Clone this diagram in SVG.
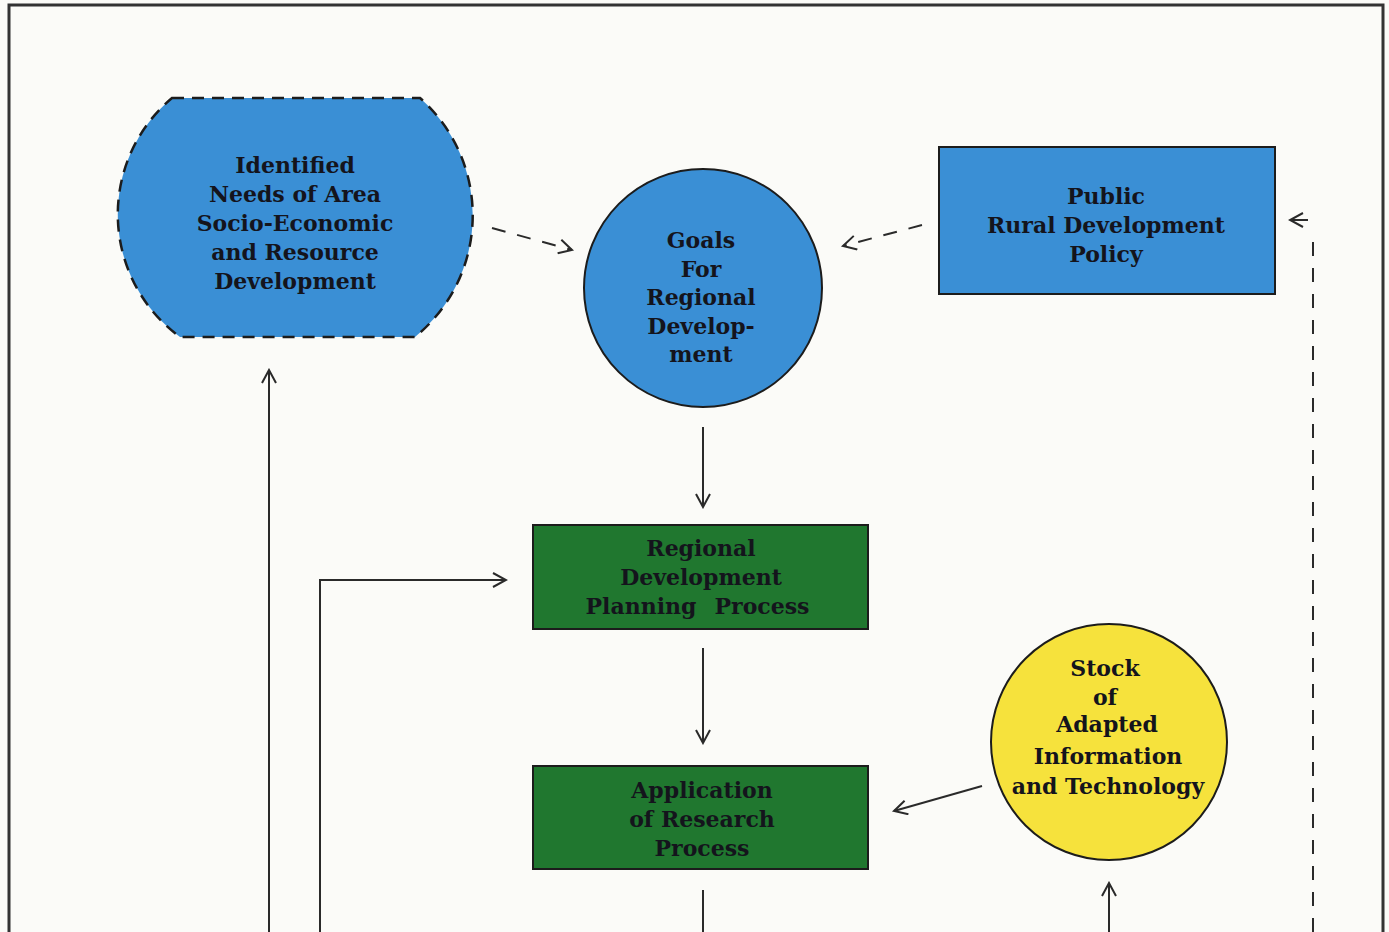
<svg xmlns="http://www.w3.org/2000/svg" width="1389" height="932" viewBox="0 0 1389 932">
  <defs>
    <style>
      .lbl { font-family: "DejaVu Serif", "Liberation Serif", serif; font-weight: bold; font-size: 22px; fill: #14141c; text-anchor: middle; }
      .wire { fill: none; stroke: #2a2a2a; stroke-width: 2; }
      .dash { stroke-dasharray: 14 12; }
      .blue { fill: #3a8fd5; }
      .green { fill: #20772f; }
      .yellow { fill: #f6e23c; }
      .edge { stroke: #1c1c1c; stroke-width: 2; }
    </style>
    <marker id="head" viewBox="-14 -8 16 16" refX="0" refY="0" markerWidth="16" markerHeight="16" markerUnits="userSpaceOnUse" orient="auto">
      <polyline points="-13,-7 0,0 -13,7" fill="none" stroke="#2a2a2a" stroke-width="2"/>
    </marker>
  </defs>

  <!-- page background and frame -->
  <rect x="0" y="0" width="1389" height="932" fill="#fbfbf8"/>
  <path d="M9,932 V5 H1383 V932" fill="none" stroke="#333" stroke-width="3"/>

  <!-- connectors -->
  <g id="connectors">
    <line class="wire dash" x1="492" y1="228" x2="572" y2="250" marker-end="url(#head)"/>
    <line class="wire dash" x1="922" y1="225" x2="843" y2="246" marker-end="url(#head)"/>
    <line class="wire dash" x1="1313" y1="932" x2="1313" y2="232"/>
    <line class="wire" x1="1308" y1="220" x2="1290" y2="220" marker-end="url(#head)"/>
    <line class="wire" x1="703" y1="427" x2="703" y2="507" marker-end="url(#head)"/>
    <line class="wire" x1="703" y1="648" x2="703" y2="743" marker-end="url(#head)"/>
    <line class="wire" x1="703" y1="890" x2="703" y2="932"/>
    <line class="wire" x1="982" y1="786" x2="894" y2="811" marker-end="url(#head)"/>
    <line class="wire" x1="1109" y1="932" x2="1109" y2="883" marker-end="url(#head)"/>
    <line class="wire" x1="269" y1="932" x2="269" y2="370" marker-end="url(#head)"/>
    <polyline class="wire" points="320,932 320,580 506,580" marker-end="url(#head)"/>
  </g>

  <!-- Identified needs -->
  <g id="needs">
    <path class="blue" d="M172,98 H420 A157,157 0 0 1 415,337 H180 A152,152 0 0 1 172,98 Z" stroke="#1c1c1c" stroke-width="2.5" stroke-dasharray="12 8"/>
    <text class="lbl" x="295" y="173">Identified</text>
    <text class="lbl" x="295" y="202">Needs of Area</text>
    <text class="lbl" x="295" y="231">Socio-Economic</text>
    <text class="lbl" x="295" y="260">and Resource</text>
    <text class="lbl" x="295" y="289">Development</text>
  </g>

  <!-- Goals -->
  <g id="goals">
    <circle class="blue edge" cx="703" cy="288" r="119"/>
    <text class="lbl" x="701" y="248">Goals</text>
    <text class="lbl" x="701" y="277">For</text>
    <text class="lbl" x="701" y="305">Regional</text>
    <text class="lbl" x="701" y="334">Develop-</text>
    <text class="lbl" x="701" y="362">ment</text>
  </g>

  <!-- Public policy -->
  <g id="policy">
    <rect class="blue edge" x="939" y="147" width="336" height="147"/>
    <text class="lbl" x="1106" y="204">Public</text>
    <text class="lbl" x="1106" y="233">Rural Development</text>
    <text class="lbl" x="1106" y="262">Policy</text>
  </g>

  <!-- Planning process -->
  <g id="planning">
    <rect class="green edge" x="533" y="525" width="335" height="104"/>
    <text class="lbl" x="701" y="556">Regional</text>
    <text class="lbl" x="701" y="585">Development</text>
    <text class="lbl" x="641" y="614">Planning</text>
    <text class="lbl" x="762" y="614">Process</text>
  </g>

  <!-- Research application -->
  <g id="research">
    <rect class="green edge" x="533" y="766" width="335" height="103"/>
    <text class="lbl" x="702" y="798">Application</text>
    <text class="lbl" x="702" y="827">of Research</text>
    <text class="lbl" x="702" y="856">Process</text>
  </g>

  <!-- Stock of technology -->
  <g id="stock">
    <circle class="yellow edge" cx="1109" cy="742" r="118"/>
    <text class="lbl" x="1105" y="676">Stock</text>
    <text class="lbl" x="1105" y="705">of</text>
    <text class="lbl" x="1107" y="732">Adapted</text>
    <text class="lbl" x="1108" y="764">Information</text>
    <text class="lbl" x="1108" y="794">and Technology</text>
  </g>
</svg>
